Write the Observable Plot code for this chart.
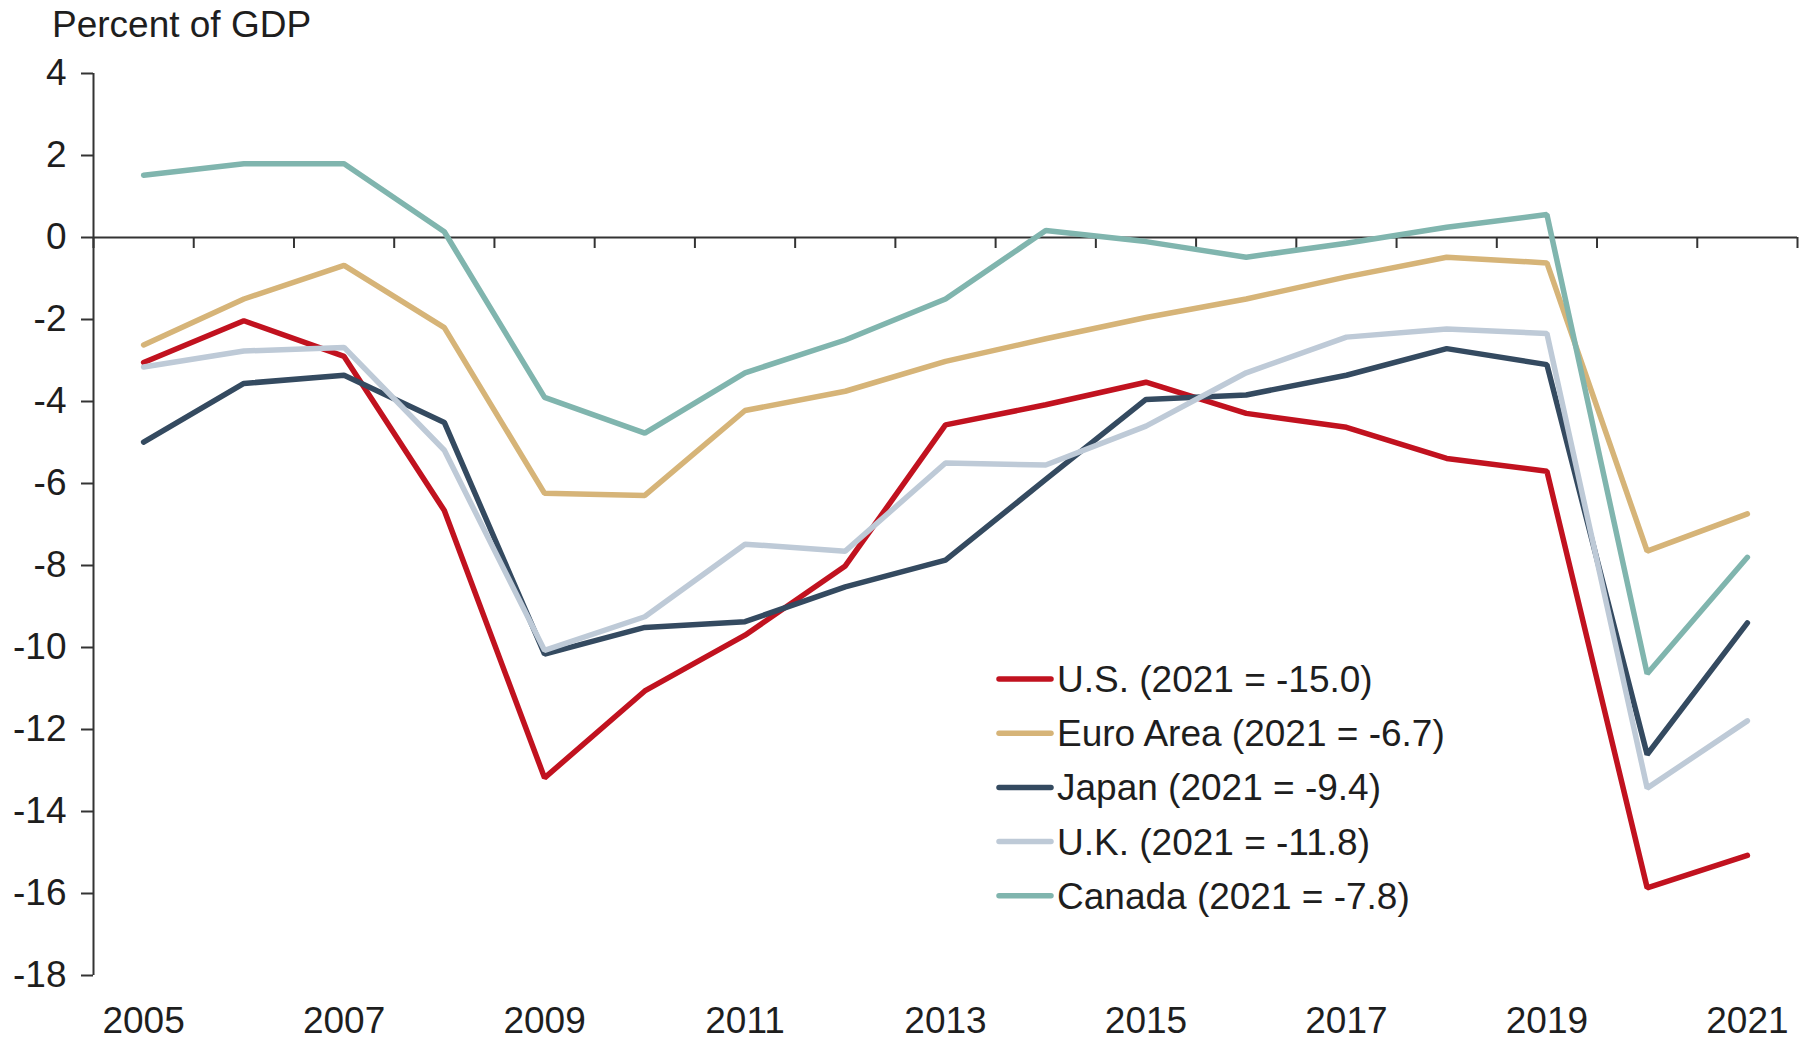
<!DOCTYPE html>
<html>
<head>
<meta charset="utf-8">
<script src="https://cdn.jsdelivr.net/npm/d3@7"></script>
<script src="https://cdn.jsdelivr.net/npm/@observablehq/plot@0.6"></script>
<style>
  html, body { margin: 0; padding: 0; background: #fff; }
  #chart svg { display: block; }
</style>
</head>
<body>
<div id="chart"></div>
<script>
// ---- data ----
const years = [2005, 2006, 2007, 2008, 2009, 2010, 2011, 2012, 2013, 2014, 2015, 2016, 2017, 2018, 2019, 2020, 2021];
const us     = [-3.05, -2.03, -2.90, -6.66, -13.18, -11.06, -9.70, -8.01, -4.57, -4.08, -3.53, -4.29, -4.63, -5.39, -5.70, -15.86, -15.07];
const euro   = [-2.62, -1.50, -0.68, -2.20, -6.24, -6.29, -4.22, -3.75, -3.02, -2.47, -1.95, -1.50, -0.96, -0.48, -0.62, -7.65, -6.74];
const japan  = [-4.99, -3.56, -3.36, -4.51, -10.16, -9.51, -9.37, -8.52, -7.87, -5.90, -3.95, -3.84, -3.36, -2.71, -3.10, -12.61, -9.40];
const uk     = [-3.16, -2.77, -2.68, -5.19, -10.07, -9.25, -7.48, -7.65, -5.50, -5.55, -4.60, -3.30, -2.43, -2.23, -2.34, -13.43, -11.79];
const canada = [1.52, 1.80, 1.80, 0.14, -3.90, -4.77, -3.30, -2.50, -1.50, 0.17, -0.10, -0.48, -0.14, 0.25, 0.56, -10.64, -7.80];

const seriesKeys   = ["U.S.", "Euro Area", "Japan", "U.K.", "Canada"];
const seriesLabels = ["U.S. (2021 = -15.0)", "Euro Area (2021 = -6.7)", "Japan (2021 = -9.4)", "U.K. (2021 = -11.8)", "Canada (2021 = -7.8)"];
const seriesValues = [us, euro, japan, uk, canada];
const seriesColors = ["#C1121F", "#D6B478", "#344A60", "#BECAD7", "#80B5AE"];

const yTicks = [4, 2, 0, -2, -4, -6, -8, -10, -12, -14, -16, -18];
const xTickLabels = [2005, 2007, 2009, 2011, 2013, 2015, 2017, 2019, 2021];
const yAxisTitle = "Percent of GDP";

// ---- build table ----
const rows = [];
seriesKeys.forEach((k, s) => {
  years.forEach((yr, i) => rows.push({series: k, year: yr, value: seriesValues[s][i]}));
});
const xMin = years[0] - 0.5, xMax = years[years.length - 1] + 0.5;
const boundaries = years.map(y => y - 0.5).concat([xMax]);
const yMin = d3.min(yTicks), yMax = d3.max(yTicks);

const FONT = "'Liberation Sans', Arial, Helvetica, sans-serif";
const FS = 37;
const INK = "#1e1e1e";
const AXIS = "#333333";

const chart = Plot.plot({
  width: 1814,
  height: 1041,
  marginLeft: 93,
  marginRight: 17,
  marginTop: 73,
  marginBottom: 66,
  style: {fontFamily: FONT, fontSize: FS + "px", color: INK, background: "#fff"},
  x: {domain: [xMin, xMax], label: null},
  y: {domain: [yMin, yMax], label: null},
  color: {domain: seriesKeys, range: seriesColors},
  marks: [
    Plot.ruleX([xMin], {y1: yMin, y2: yMax, stroke: AXIS, strokeWidth: 2}),
    Plot.axisY({ticks: yTicks, label: null, tickSize: 12, tickPadding: 15, tickFormat: d => String(d), stroke: AXIS, strokeWidth: 2, fill: INK, fontSize: FS}),
    Plot.ruleY([0], {x1: xMin, x2: xMax, stroke: AXIS, strokeWidth: 2}),
    Plot.ruleX(boundaries, {y1: 0, y2: 0, insetTop: 0, insetBottom: -11, stroke: AXIS, strokeWidth: 2}),
    Plot.axisX({ticks: xTickLabels, label: null, tickSize: 0, tickPadding: 31, tickFormat: d => String(d), fill: INK, fontSize: FS}),
    Plot.line(rows, {x: "year", y: "value", z: "series", stroke: "series", strokeWidth: 5.5, strokeLinecap: "round", strokeLinejoin: "miter"})
  ]
});

const svg = d3.select(chart);
svg.append("text")
  .attr("x", 52).attr("y", 37)
  .attr("text-anchor", "start")
  .attr("font-family", FONT).attr("font-size", FS).attr("fill", INK)
  .text(yAxisTitle);

const legend = svg.append("g").attr("text-anchor", "start");
seriesLabels.forEach((lab, i) => {
  const cy = 679 + i * 54.2;
  legend.append("line")
    .attr("x1", 999).attr("x2", 1051).attr("y1", cy).attr("y2", cy)
    .attr("stroke", seriesColors[i]).attr("stroke-width", 5.5).attr("stroke-linecap", "round");
  legend.append("text")
    .attr("x", 1057).attr("y", cy).attr("dy", "0.35em")
    .attr("text-anchor", "start")
    .attr("font-family", FONT).attr("font-size", FS).attr("fill", INK)
    .text(lab);
});

document.getElementById("chart").appendChild(chart);
</script>
</body>
</html>
